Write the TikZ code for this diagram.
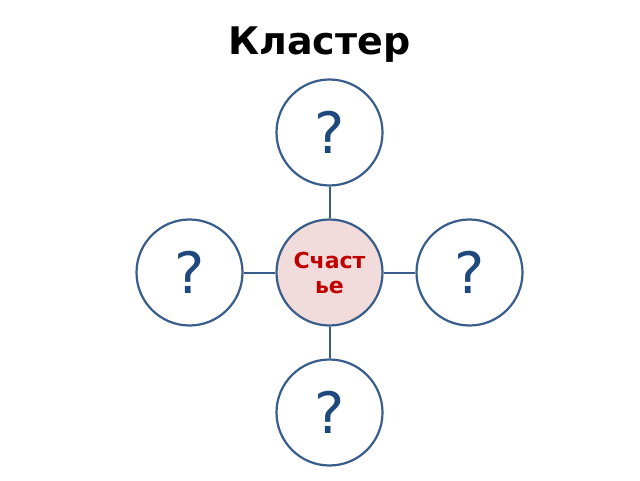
\documentclass[tikz,border=0pt]{standalone}
\usepackage{fontspec}
\setmainfont{DejaVu Sans}
\usetikzlibrary{positioning}
\definecolor{ringblue}{HTML}{385D8A}
\definecolor{markblue}{HTML}{1F497D}
\definecolor{corefill}{HTML}{F2DCDB}
\definecolor{corered}{HTML}{C00000}
\tikzstyle{leaf} = [circle, draw=ringblue, line width=2.2pt, fill=white, minimum size=106pt, inner sep=0pt, text=markblue, font=\fontsize{57}{60}\selectfont]
\tikzstyle{core} = [circle, draw=ringblue, line width=2.2pt, fill=corefill, minimum size=106pt, inner sep=0pt, text=corered, align=center, font=\fontsize{22}{25}\selectfont\bfseries]
\tikzstyle{link} = [ringblue, line width=2pt]

\begin{document}
\begin{tikzpicture}[x=1pt, y=1pt]

    % page frame
    \useasboundingbox (0, 0) rectangle (640, 480);

    \node (title) [anchor=base, font=\fontsize{38}{40}\selectfont\bfseries] at (319.5, 425) {Кластер};

    \node (happy) [core] at (329.5, 207.5) {Счаст\\ье};

    \node (up) [leaf] at (329.5, 347.5) {?};
    \node (left) [leaf] at (189.5, 207.5) {?};
    \node (right) [leaf] at (469.5, 207.5) {?};
    \node (down) [leaf] at (329.5, 67.5) {?};

    \draw [link] (happy) -- (up);
    \draw [link] (happy) -- (left);
    \draw [link] (happy) -- (right);
    \draw [link] (happy) -- (down);

\end{tikzpicture}
\end{document}
